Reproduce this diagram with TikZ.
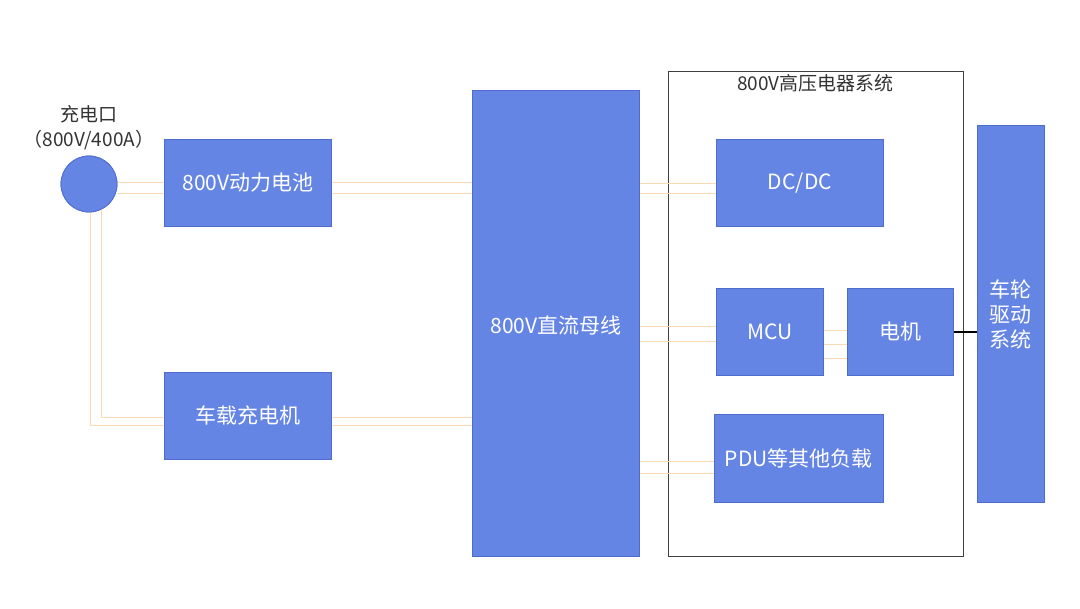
\documentclass[tikz,border=0pt]{standalone}
\usepackage{fontspec}
\setmainfont{Noto Sans CJK SC}
\begin{document}
\begin{tikzpicture}[x=1pt,y=-1pt,
  blk/.style={draw=blkedge,fill=blkfill,line width=0.8pt,text=white,inner sep=0pt,anchor=north west,align=center},
  btxt/.style={text=white,font=\fontsize{21}{25}\selectfont,align=center,inner sep=0pt},
  wire/.style={draw=wirecol,line width=0.9pt},
  lbl/.style={font=\fontsize{19}{25}\selectfont,text=black!80,align=center,inner sep=0pt}]
\definecolor{blkfill}{RGB}{101,133,229}
\definecolor{blkedge}{RGB}{78,108,205}
\definecolor{wirecol}{RGB}{250,218,178}
\useasboundingbox[fill=white] (0,0) rectangle (1080,609);
% nodes
\node[circle,draw=blkedge,fill=blkfill,line width=0.8pt,minimum size=56pt,inner sep=0pt] (port) at (89,184) {};
\node[lbl] (portlbl) at (89,128) {充电口\\（800V/400A）};
\node[blk,minimum width=167pt,minimum height=87pt] (bat) at (164,139) {};
\node[blk,minimum width=167pt,minimum height=87pt] (obc) at (164,372) {};
\node[blk,minimum width=167pt,minimum height=466pt] (bus) at (472,90) {};
\node[draw=black!75,line width=0.8pt,minimum width=295pt,minimum height=485pt,anchor=north west,inner sep=0pt] (sys) at (668,71) {};
\node[lbl,anchor=north] (systitle) at (815.5,74) {800V高压电器系统};
\node[blk,minimum width=167pt,minimum height=87pt] (dcdc) at (716,139) {};
\node[blk,minimum width=107pt,minimum height=87pt] (mcu) at (716,288) {};
\node[blk,minimum width=106pt,minimum height=87pt] (mot) at (847,288) {};
\node[blk,minimum width=169pt,minimum height=88pt] (pdu) at (714,414) {};
\node[blk,minimum width=67pt,minimum height=377pt] (whl) at (977,125) {};
% connectors
\draw[wire] ([yshift=2pt]port.east) -- ([yshift=2pt]port.east -| bus.west);
\draw[wire] ([yshift=-9pt]port.east) -- ([yshift=-9pt]port.east -| bus.west);
\draw[wire] ([xshift=1pt]port.south) |- ([yshift=-9.5pt]obc.east -| bus.west);
\draw[wire] ([xshift=12pt,yshift=3pt]port.south) |- ([yshift=-1.5pt]obc.east -| bus.west);
\draw[wire] ([yshift=-0.5pt]bus.east |- dcdc.west) -- ([yshift=-0.5pt]dcdc.west);
\draw[wire] ([yshift=-10.5pt]bus.east |- dcdc.west) -- ([yshift=-10.5pt]dcdc.west);
\draw[wire] ([yshift=5.5pt]bus.east |- mcu.west) -- ([yshift=5.5pt]mcu.west);
\draw[wire] ([yshift=-9.5pt]bus.east |- mcu.west) -- ([yshift=-9.5pt]mcu.west);
\draw[wire] ([yshift=1.5pt]mcu.east) -- ([yshift=1.5pt]mot.west);
\draw[wire] ([yshift=-12.5pt]mcu.east) -- ([yshift=-12.5pt]mot.west);
\draw[wire] ([yshift=-26.5pt]mcu.east) -- ([yshift=-26.5pt]mot.west);
\draw[wire] ([yshift=-3pt]bus.east |- pdu.west) -- ([yshift=-3pt]pdu.west);
\draw[wire] ([yshift=-15pt]bus.east |- pdu.west) -- ([yshift=-15pt]pdu.west);
\draw[black,line width=2.2pt] ([yshift=-0.5pt]mot.east) -- ([yshift=-0.5pt]mot.east -| whl.west);
% redraw blocks over wires
\foreach \n in {bat,obc,bus,dcdc,mcu,mot,pdu,whl}{\draw[draw=blkedge,fill=blkfill,line width=0.8pt] (\n.north west) rectangle (\n.south east);}
\draw[draw=blkedge,fill=blkfill,line width=0.8pt] (port) circle (28pt);
% labels
\node[btxt] (batl) at (bat) {800V动力电池};
\node[btxt] (obcl) at (obc) {车载充电机};
\node[btxt] (busl) at ([yshift=6pt]bus.center |- mcu.center) {800V直流母线};
\node[btxt] (dcdcl) at (dcdc) {DC/DC};
\node[btxt] (mcul) at (mcu) {MCU};
\node[btxt] (motl) at (mot) {电机};
\node[btxt] (pdul) at (pdu) {PDU等其他负载};
\node[btxt] (whll) at (1010.5,314) {车轮\\驱动\\系统};
\end{tikzpicture}
\end{document}
